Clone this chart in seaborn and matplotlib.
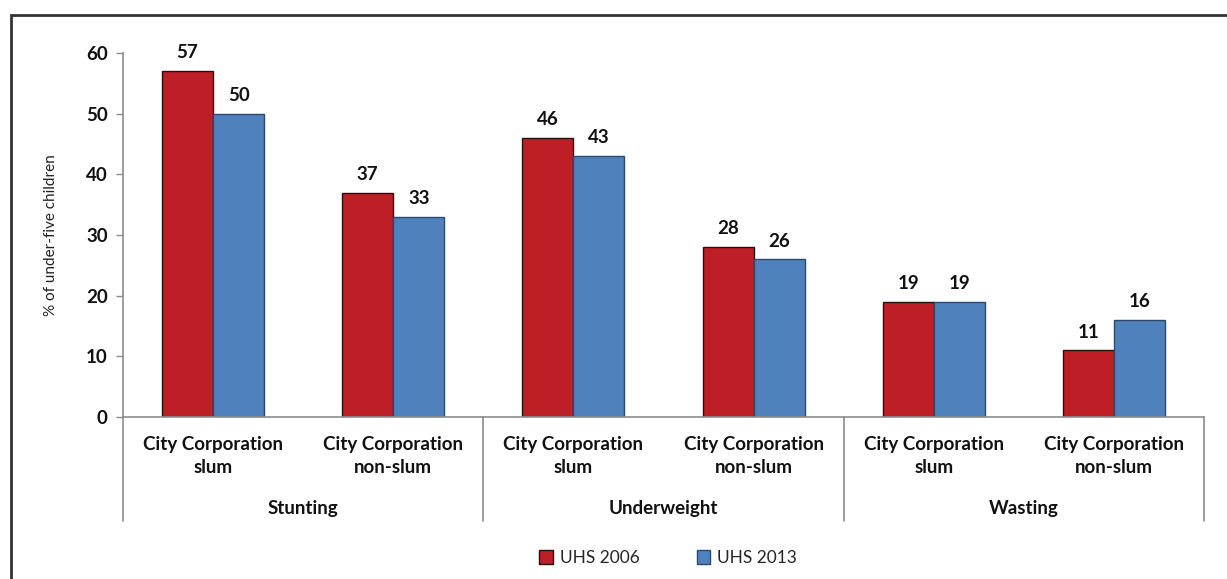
import matplotlib
matplotlib.use("Agg")
import matplotlib.pyplot as plt
from matplotlib.lines import Line2D
from matplotlib.patches import Patch
import matplotlib.transforms as mtransforms
import pandas as pd
import seaborn as sns

# ---- data ----
indicators = ["Stunting", "Underweight", "Wasting"]
areas = ["City Corporation\nslum", "City Corporation\nnon-slum"]
surveys = ["UHS 2006", "UHS 2013"]
uhs_2006 = [57, 37, 46, 28, 19, 11]
uhs_2013 = [50, 33, 43, 26, 19, 16]
y_ticks = [0, 10, 20, 30, 40, 50, 60]
y_label = "% of under-five children"

colors = {"UHS 2006": "#BE1E26", "UHS 2013": "#4F81BD"}
edges = {"UHS 2006": "#2A0F10", "UHS 2013": "#2C4A6E"}

keys = [f"{ind}|{a}" for ind in indicators for a in areas]
rows = []
for k, v06, v13 in zip(keys, uhs_2006, uhs_2013):
    rows.append({"group": k, "survey": "UHS 2006", "value": v06})
    rows.append({"group": k, "survey": "UHS 2013", "value": v13})
df = pd.DataFrame(rows)

sns.set_style("white")
plt.rcParams["font.family"] = ["Lato", "DejaVu Sans"]

fig = plt.figure(figsize=(12.27, 5.79), dpi=100)
ax = fig.add_axes([123 / 1227, 162 / 579, (1204 - 123) / 1227, 364 / 579])

sns.barplot(data=df, x="group", y="value", hue="survey", order=keys,
            hue_order=surveys, palette=colors, width=0.567, gap=0,
            saturation=1, ax=ax, legend=False)

for cont, s in zip(ax.containers, surveys):
    for bar in cont:
        bar.set_edgecolor(edges[s])
        bar.set_linewidth(1.0)
    ax.bar_label(cont, fmt="%d", padding=7, fontsize=13.5,
                 fontweight="bold", color="#111111")

ax.set_xlim(-0.5, len(keys) - 0.5)
ax.set_ylim(0, 60)
ax.set_yticks(y_ticks)
ax.set_yticklabels([str(t) for t in y_ticks], fontsize=13.5,
                   fontweight="bold", color="#111111")
ax.tick_params(axis="y", length=5, width=1, color="#8C8C8C", pad=6,
               left=True)
ax.set_xticks(range(len(keys)))
ax.set_xticklabels(areas * len(indicators), fontsize=13.5, fontweight="bold",
                   color="#111111", linespacing=1.4)
ax.tick_params(axis="x", length=0, pad=14)
ax.set_xlabel("")
ax.set_ylabel(y_label, fontsize=11, color="#222222", labelpad=20)

for side in ["top", "right"]:
    ax.spines[side].set_visible(False)
for side in ["left", "bottom"]:
    ax.spines[side].set_color("#8C8C8C")
    ax.spines[side].set_linewidth(1.2)

# group separators and indicator names below the axis
trans = mtransforms.blended_transform_factory(ax.transData, ax.transAxes)
for xb in [-0.5, 1.5, 3.5, 5.5]:
    ax.add_line(Line2D([xb, xb], [0, -0.285], transform=trans,
                       color="#8C8C8C", lw=1.2, clip_on=False))
for i, ind in enumerate(indicators):
    ax.text(2 * i + 0.5, -0.251, ind, transform=trans, ha="center",
            va="center", fontsize=13.5, fontweight="bold", color="#111111")

# legend
handles = [Patch(facecolor=colors[s], edgecolor=edges[s], linewidth=1.0,
                 label=s) for s in surveys]
fig.legend(handles=handles, loc="center", bbox_to_anchor=(668 / 1227, 21 / 579),
           ncol=2, frameon=False, fontsize=12.5, handlelength=0.8,
           handleheight=0.8, handletextpad=0.4, columnspacing=3.3)

# outer frame
fx, fy = 10.5 / 1227, 1 - 14.5 / 579
fig.add_artist(Line2D([fx, fx, 1.0], [0.0, fy, fy], transform=fig.transFigure,
                      color="#333333", lw=2.0, solid_joinstyle="miter"))

fig.savefig("out.png", dpi=100)
